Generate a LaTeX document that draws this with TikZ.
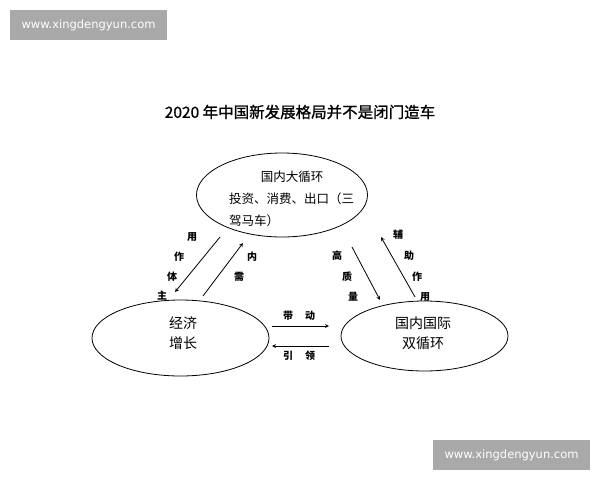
\documentclass[tikz,border=0pt]{standalone}
\usepackage{fontspec}
\usetikzlibrary{shapes.geometric}
\setmainfont{Noto Sans CJK SC}
\newfontfamily\titlefont{Noto Sans CJK SC}[FakeBold=1]
\newfontfamily\wmfont{DejaVu Sans}
\definecolor{wmgray}{RGB}{169,169,169}

\begin{document}
\begin{tikzpicture}[x=1pt,y=-1pt,>=stealth,line width=0.8pt]
    \useasboundingbox (0,0) rectangle (600,480);
    \tikzset{
        loop/.style={ellipse,draw=black,inner sep=0pt},
        lbl/.style={font=\fontsize{10}{10}\selectfont\bfseries,inner sep=0pt},
        wm/.style={fill=wmgray,text=white,minimum width=157pt,minimum height=30pt,font=\wmfont\fontsize{11.5}{12}\selectfont}
    }
    \node[wm] (wmtop) at (88.5,25) {www.xingdengyun.com};
    \node[wm] (wmbot) at (511.5,455) {www.xingdengyun.com};
    \node[font=\titlefont\fontsize{15.5}{18}\selectfont] (title) at (300,112) {2020 年中国新发展格局并不是闭门造车};

    \begin{scope}[every node/.style={loop}]
        \node[minimum width=171pt,minimum height=84pt] (dom) at (282,195) {};
        \node[minimum width=177pt,minimum height=76pt] (econ) at (180.5,338) {};
        \node[minimum width=167pt,minimum height=70pt] (dual) at (424.5,336) {};
    \end{scope}
    \node[align=left,text width=126pt,inner sep=0pt,font=\fontsize{12.5}{22}\selectfont] (domtext) at (292,199)
        {\makebox[126pt]{国内大循环}\\投资、消费、出口（三\\驾马车）};
    \node[align=center,font=\fontsize{14}{20}\selectfont] (econtext) at (183,333) {经济\\增长};
    \node[align=center,font=\fontsize{14}{20}\selectfont] (dualtext) at (423,333) {国内国际\\双循环};

    % arrows between the loops
    \coordinate (e1) at (272,326);
    \coordinate (d1) at (329,326);
    \coordinate (d2) at (329,346);
    \coordinate (e2) at (272,346);
    \draw[->] (e1) -- (d1);
    \draw[->] (d2) -- (e2);
    \node[lbl] (dai) at (288,316) {带};
    \node[lbl] (dong) at (310,316) {动};
    \node[lbl] (yin) at (288,356) {引};
    \node[lbl] (ling) at (310,356) {领};

    \coordinate (p1) at (220,237);
    \coordinate (p2) at (175,292);
    \coordinate (q1) at (203,296);
    \coordinate (q2) at (243,243);
    \draw[->] (p1) -- (p2);
    \draw[->] (q1) -- (q2);
    \node[lbl] (z1) at (192,237) {用};
    \node[lbl] (z2) at (179,257) {作};
    \node[lbl] (z3) at (172,277) {体};
    \node[lbl] (z4) at (162,296) {主};
    \node[lbl] (n1) at (252,257) {内};
    \node[lbl] (n2) at (239,277) {需};

    \coordinate (r1) at (352,247);
    \coordinate (r2) at (380,300);
    \coordinate (s1) at (415,297);
    \coordinate (s2) at (381,237);
    \draw[->] (r1) -- (r2);
    \draw[->] (s1) -- (s2);
    \node[lbl] (g1) at (337,256) {高};
    \node[lbl] (g2) at (347,277) {质};
    \node[lbl] (g3) at (353,297) {量};
    \node[lbl] (f1) at (398,235) {辅};
    \node[lbl] (f2) at (409,256) {助};
    \node[lbl] (f3) at (417,277) {作};
    \node[lbl] (f4) at (425,297) {用};
\end{tikzpicture}
\end{document}
